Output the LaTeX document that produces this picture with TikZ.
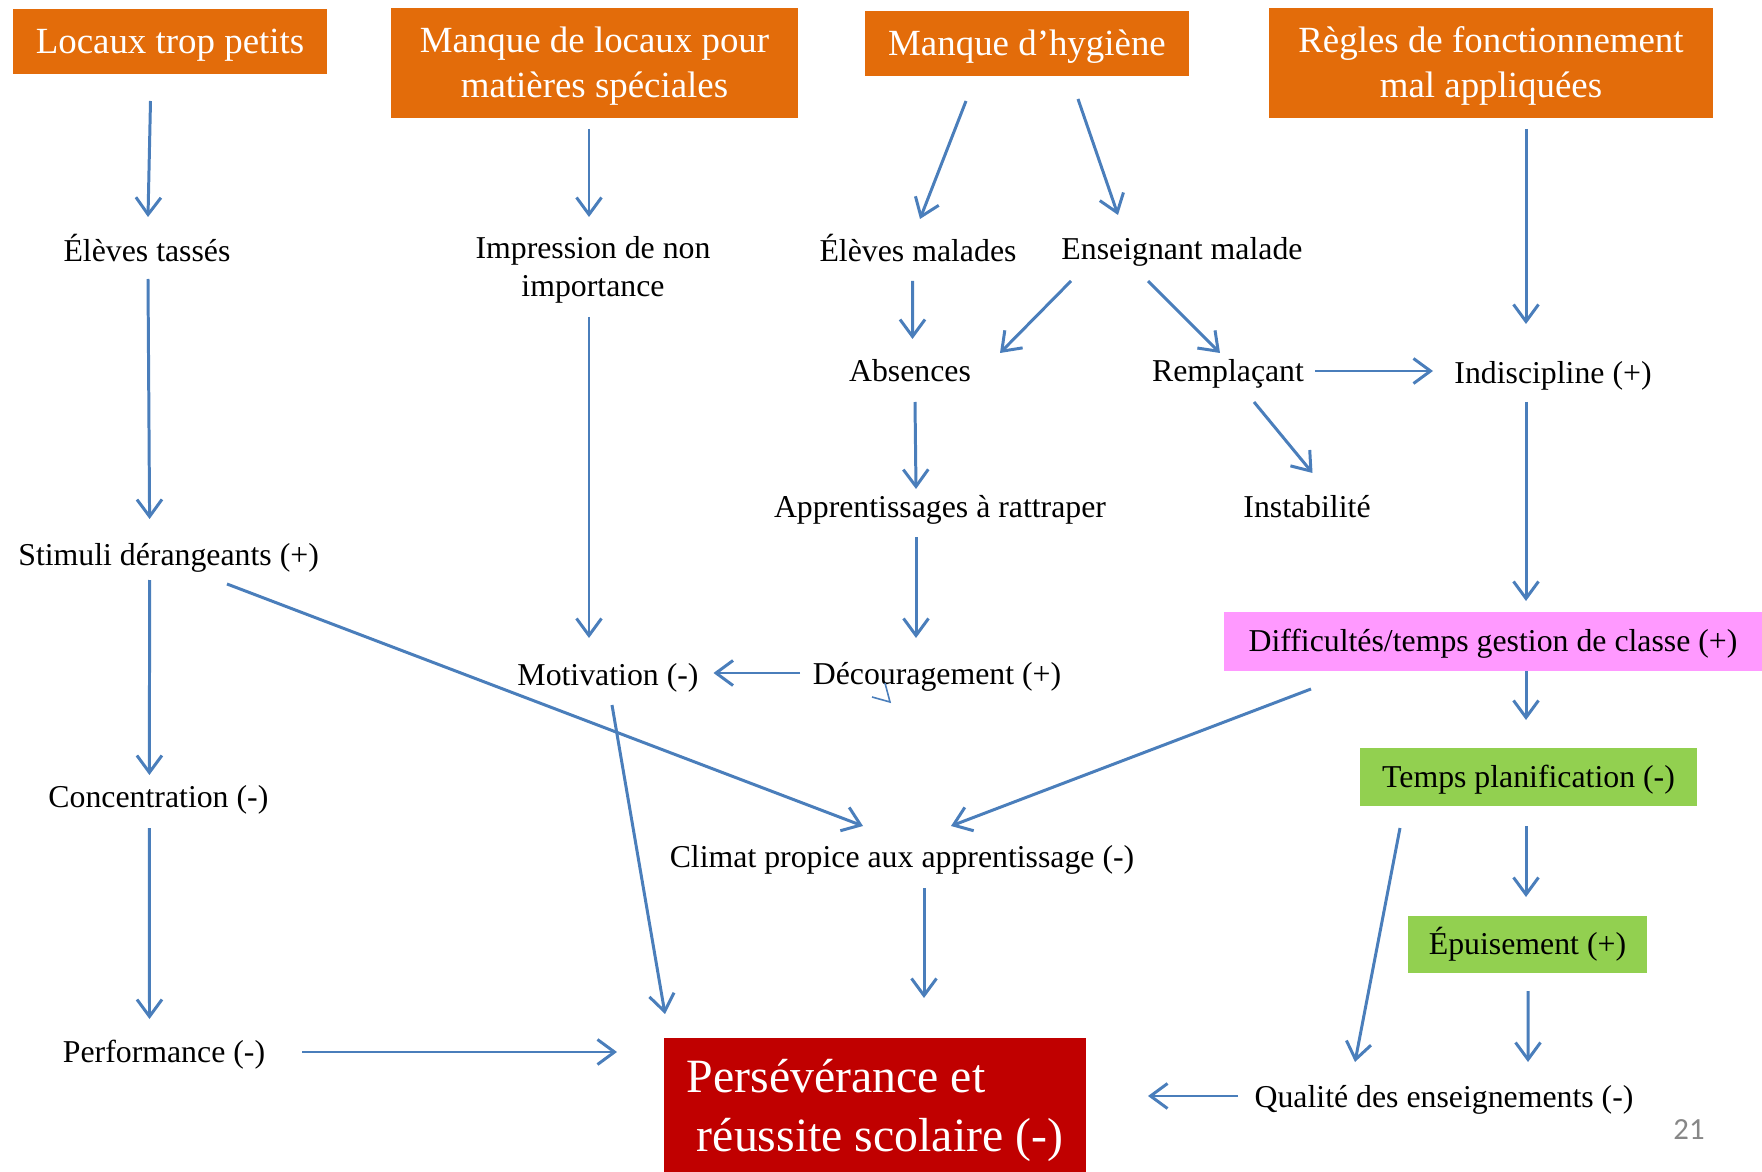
\documentclass[tikz,border=0pt]{standalone}
\usepackage{fontspec}
\setmainfont{Liberation Serif}
\newfontfamily\slidenum{Carlito}
\usepackage{xcolor}
\usetikzlibrary{arrows.meta}
\usetikzlibrary{calc}
\definecolor{boxorange}{RGB}{227,108,10}
\definecolor{boxpink}{RGB}{255,153,255}
\definecolor{boxgreen}{RGB}{146,208,80}
\definecolor{boxred}{RGB}{192,0,0}
\definecolor{arrowblue}{RGB}{74,126,187}
\tikzset{
  cause/.style={fill=boxorange, text=white, font=\fontsize{21}{25.5}\selectfont, align=center, inner sep=0pt,
    text height=18.9pt, text depth=5.15pt},
  effect/.style={font=\fontsize{18.1}{21.6}\selectfont, align=center, inner sep=0pt,
    text height=16.3pt, text depth=4.44pt},
  tagged/.style={effect, fill=#1},
  arr/.style={draw=arrowblue, line width=1.7pt, -{Straight Barb[length=3.4mm,width=5mm]}}
}

\begin{document}
\begin{tikzpicture}[x=0.02cm, y=-0.02cm]
    \useasboundingbox (0,0) rectangle (1762,1172);
    \node[cause, minimum width=6.28cm, minimum height=1.3cm] (loc) at (170,41.5) {Locaux trop petits};
    \node[cause, text height=44.4pt, minimum width=8.14cm, minimum height=2.2cm] (mlp) at (594.5,63) {Manque de locaux pour\\matières spéciales};
    \node[cause, minimum width=6.48cm, minimum height=1.3cm] (hyg) at (1027,43.5) {Manque d’hygiène};
    \node[cause, text height=44.4pt, minimum width=8.88cm, minimum height=2.2cm] (reg) at (1491,63) {Règles de fonctionnement\\mal appliquées};
    \node[effect] (tas) at (147,251) {Élèves tassés};
    \node[effect, text height=37.9pt] (imp) at (593,267.5) {Impression de non\\importance};
    \node[effect] (mal) at (918,250.6) {Élèves malades};
    \node[effect] (ens) at (1182,249.5) {Enseignant malade};
    \node[effect] (abs) at (910,371) {Absences};
    \node[effect] (rem) at (1228,371) {Remplaçant};
    \node[effect] (ind) at (1553,373) {Indiscipline (+)};
    \node[effect] (app) at (940,507) {Apprentissages à rattraper};
    \node[effect] (ins) at (1307,507) {Instabilité};
    \node[effect] (sti) at (168.6,555) {Stimuli dérangeants (+)};
    \node[tagged=boxpink, minimum width=10.76cm, minimum height=1.18cm] (dif) at (1493,641.5) {Difficultés/temps gestion de classe (+)};
    \node[effect] (mot) at (608,675) {Motivation (-)};
    \node[effect] (dec) at (937,674) {Découragement (+)};
    \node[tagged=boxgreen, minimum width=6.74cm, minimum height=1.16cm] (tpl) at (1528.5,777) {Temps planification (-)};
    \node[effect] (con) at (158.4,797) {Concentration (-)};
    \node[effect] (cli) at (902,857) {Climat propice aux apprentissage (-)};
    \node[tagged=boxgreen, minimum width=4.78cm, minimum height=1.14cm] (epu) at (1527.5,944.5) {Épuisement (+)};
    \node[effect] (per) at (164,1052) {Performance (-)};
    \node[fill=boxred, text=white, font=\fontsize{27.2}{33.4}\selectfont, align=left, inner sep=0pt,
      text height=57.9pt, text depth=6.68pt,
      minimum width=8.44cm, minimum height=2.72cm] (rsc) at (875,1106) {Persévérance et\\\hspace{0.2cm}réussite scolaire (-)};
    \node[effect] (qua) at (1444,1097) {Qualité des enseignements (-)};
    \node[font=\slidenum\fontsize{17.5}{20}\selectfont, text=black!47, inner sep=0pt] (pg) at (1689,1130) {21};

    \draw[arr] ($(loc)+(-19.5,59.5)$) -- ($(tas)+(1,-34)$);
    \draw[arr] ($(mlp)+(-5.5,66)$) -- ($(imp)+(-4,-50.5)$);
    \draw[arr] ($(hyg)+(-61,57.5)$) -- ($(mal)+(2,-31.6)$);
    \draw[arr] ($(hyg)+(51,55.5)$) -- ($(ens)+(-64,-34.5)$);
    \draw[arr] ($(reg)+(35,66)$) -- ($(ind)+(-27,-49)$);
    \draw[arr] ($(tas)+(1,28)$) -- ($(sti)+(-19,-36)$);
    \draw[arr] ($(imp)+(-4,49.5)$) -- ($(mot)+(-19,-37)$);
    \draw[arr] ($(mal)+(-5.5,30.4)$) -- ($(abs)+(2.5,-32)$);
    \draw[arr] ($(ens)+(-111,31.5)$) -- ($(abs)+(90,-18)$);
    \draw[arr] ($(ens)+(-34,31.5)$) -- ($(rem)+(-8,-18)$);
    \draw[arr] ($(rem)+(87,0)$) -- ($(ind)+(-120,-2)$);
    \draw[arr] ($(abs)+(5,31)$) -- ($(app)+(-24,-18)$);
    \draw[arr] ($(rem)+(26,31)$) -- ($(ins)+(5.5,-34)$);
    \draw[arr] ($(ind)+(-27,29)$) -- ($(dif)+(33,-40.5)$);
    \draw[arr] ($(sti)+(-19,25)$) -- ($(con)+(-9,-22)$);
    \draw[arr] ($(sti)+(58.4,29)$) -- ($(cli)+(-39,-31)$);
    \draw[arr] ($(app)+(-24,30)$) -- ($(dec)+(-21,-36)$);
    \draw[arr] ($(dec)+(-137,-1)$) -- ($(mot)+(105.5,-2)$);
    \draw[arr] ($(dif)+(-182,47.5)$) -- ($(cli)+(49,-31)$);
    \draw[arr] ($(dif)+(33,29.5)$) -- ($(tpl)+(-2.5,-57)$);
    \draw[arr] ($(mot)+(4,30)$) -- ($(rsc)+(-210,-92)$);
    \draw[arr] ($(con)+(-9,31)$) -- ($(per)+(-14.5,-33)$);
    \draw[arr] ($(cli)+(22,31)$) -- ($(rsc)+(49,-108)$);
    \draw[arr] ($(tpl)+(-2.5,49)$) -- ($(epu)+(-1.5,-47.5)$);
    \draw[arr] ($(tpl)+(-128.5,51)$) -- ($(qua)+(-89,-35)$);
    \draw[arr] ($(epu)+(0.5,46.5)$) -- ($(qua)+(84,-35)$);
    \draw[arr] ($(per)+(138,0)$) -- ($(rsc)+(-258,-54)$);
    \draw[arr] ($(qua)+(-206,-1)$) -- ($(rsc)+(273,-10)$);
    \draw[arrowblue, line width=0.9pt] ($(dec)+(-65,23)$) -- ($(dec)+(-47,28)$) -- ($(dec)+(-52,9)$);
\end{tikzpicture}
\end{document}
